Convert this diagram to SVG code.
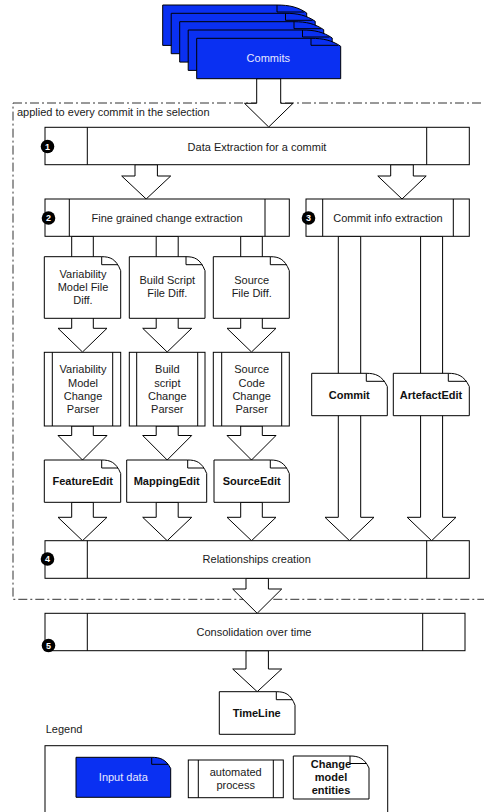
<svg xmlns="http://www.w3.org/2000/svg" width="484" height="812" viewBox="0 0 484 812">
<style>
.bg{fill:#fff}
.proc{fill:#fff;stroke:#000;stroke-width:1}
.div{stroke:#000;stroke-width:1}
.arrow{fill:#fff;stroke:#000;stroke-width:1;stroke-linejoin:miter}
.doc{fill:#fff;stroke:#000;stroke-width:1}
.blue{fill:#0a30f2;stroke:#000;stroke-width:1}
.fold{fill:none;stroke:#000;stroke-width:1}
.t{font-family:"Liberation Sans",Arial,sans-serif;font-size:11px;fill:#1a1a1a;text-anchor:middle}
.b{font-weight:bold;fill:#111}
.w{fill:#e8e8ff}
.num{font-family:"Liberation Sans",Arial,sans-serif;font-size:9px;font-weight:bold;fill:#fff;text-anchor:middle}
.frame{fill:none;stroke:#333;stroke-width:1;stroke-dasharray:9 3 2 3}
</style>
<rect class="bg" x="0" y="0" width="484" height="812"/>

<g id="scope">
<rect class="frame" x="13" y="103" width="490" height="496.3"/>
<text class="t" x="17" y="116.3" style="text-anchor:start">applied to every commit in the selection</text>
</g>

<g id="connectors">
<polygon class="arrow" points="256.7,78.7 280.7,78.7 280.7,103.3 293,103.3 268.7,127 244.5,103.3 256.7,103.3"/>
<polygon class="arrow" points="135,164.7 157.4,164.7 157.4,176 170.7,176 146.2,199 121.7,176 135,176"/>
<polygon class="arrow" points="390.7,164.7 413.3,164.7 413.3,176 426.2,176 402,199 377.8,176 390.7,176"/>
<polygon class="arrow" points="71.7,236.3 93.3,236.3 93.3,328.3 107,328.3 82.5,352 58,328.3 71.7,328.3"/>
<polygon class="arrow" points="156.2,236.3 178.2,236.3 178.2,328.3 191.7,328.3 167.2,352 142.7,328.3 156.2,328.3"/>
<polygon class="arrow" points="240.7,236.3 262.3,236.3 262.3,328.3 276,328.3 251.5,352 227,328.3 240.7,328.3"/>
<polygon class="arrow" points="71.7,426 93.3,426 93.3,435.5 107,435.5 82.5,460 58,435.5 71.7,435.5"/>
<polygon class="arrow" points="156.2,426 178.2,426 178.2,435.5 191.7,435.5 167.2,460 142.7,435.5 156.2,435.5"/>
<polygon class="arrow" points="240.7,426 262.3,426 262.3,435.5 276,435.5 251.5,460 227,435.5 240.7,435.5"/>
<polygon class="arrow" points="71.7,502.3 93.3,502.3 93.3,517.3 107,517.3 82.5,540.7 58,517.3 71.7,517.3"/>
<polygon class="arrow" points="156.2,502.3 178.2,502.3 178.2,517.3 191.7,517.3 167.2,540.7 142.7,517.3 156.2,517.3"/>
<polygon class="arrow" points="240.7,502.3 262.3,502.3 262.3,517.3 276,517.3 251.5,540.7 227,517.3 240.7,517.3"/>
<polygon class="arrow" points="338.3,236.3 360.7,236.3 360.7,517.3 374,517.3 349.5,540.7 325,517.3 338.3,517.3"/>
<polygon class="arrow" points="420.6,236.3 442.6,236.3 442.6,517.3 456,517.3 431.6,540.7 407.2,517.3 420.6,517.3"/>
<polygon class="arrow" points="246,578.3 268.4,578.3 268.4,589 281.7,589 257.2,613.3 232.7,589 246,589"/>
<polygon class="arrow" points="246,650.7 268.4,650.7 268.4,669 281.7,669 257.2,691.7 232.7,669 246,669"/>
</g>

<g id="commits">
<path class="blue" d="M162.7,5 H277 C289,5 298,7 306.7,13 V45.4 H162.7 Z"/>
<path class="fold" d="M277,5 V12 H304"/>
<path class="blue" d="M171.2,13.3 H285.5 C297.5,13.3 306.5,15.3 315.2,21.3 V53.7 H171.2 Z"/>
<path class="fold" d="M285.5,13.3 V20.3 H312.5"/>
<path class="blue" d="M179.7,21.7 H294 C306,21.7 315,23.7 323.7,29.7 V62.1 H179.7 Z"/>
<path class="fold" d="M294,21.7 V28.7 H321"/>
<path class="blue" d="M188.2,30 H302.5 C314.5,30 323.5,32 332.2,38 V70.4 H188.2 Z"/>
<path class="fold" d="M302.5,30 V37 H329.5"/>
<path class="blue" d="M196.7,38.3 H311 C323,38.3 332,40.3 340.7,46.3 V78.7 H196.7 Z"/>
<path class="fold" d="M311,38.3 V45.3 H338"/>
<text class="t w" x="268.3" y="62.3">Commits</text>
</g>

<g id="step1">
<rect class="proc" x="45" y="127.3" width="424.3" height="37.4"/>
<line class="div" x1="87.3" y1="127.3" x2="87.3" y2="164.7"/>
<line class="div" x1="426.7" y1="127.3" x2="426.7" y2="164.7"/>
<text class="t" x="257" y="150.7">Data Extraction for a commit</text>
<circle cx="47.5" cy="146.5" r="6.8" fill="#000"/>
<text class="num" x="47.5" y="149.7">1</text>
</g>

<g id="step2">
<rect class="proc" x="45" y="199" width="244.3" height="37.3"/>
<line class="div" x1="69.3" y1="199" x2="69.3" y2="236.3"/>
<line class="div" x1="265" y1="199" x2="265" y2="236.3"/>
<text class="t" x="167" y="222.3">Fine grained change extraction</text>
<circle cx="48.5" cy="218" r="6.8" fill="#000"/>
<text class="num" x="48.5" y="221.2">2</text>
</g>

<g id="step3">
<rect class="proc" x="306" y="199" width="163.3" height="37.3"/>
<line class="div" x1="322.7" y1="199" x2="322.7" y2="236.3"/>
<line class="div" x1="453.3" y1="199" x2="453.3" y2="236.3"/>
<text class="t" x="388" y="222.3">Commit info extraction</text>
<circle cx="308.5" cy="218" r="6.8" fill="#000"/>
<text class="num" x="308.5" y="221.2">3</text>
</g>

<g id="vm-diff">
<path class="doc" d="M44.3,256.7 H101.7 C110,256.7 116,258.7 120.7,270.7 V318.3 H44.3 Z"/>
<path class="fold" d="M101.7,256.7 V264.7 H118"/>
<text class="t" x="83" y="278.3">Variability</text>
<text class="t" x="83" y="290.9">Model File</text>
<text class="t" x="83" y="304">Diff.</text>
</g>

<g id="bs-diff">
<path class="doc" d="M129.3,256.7 H186 C194.3,256.7 200.3,258.7 205,270.7 V318.3 H129.3 Z"/>
<path class="fold" d="M186,256.7 V264.7 H202.3"/>
<text class="t" x="167.3" y="284">Build Script</text>
<text class="t" x="167.3" y="297.3">File Diff.</text>
</g>

<g id="src-diff">
<path class="doc" d="M213.3,256.7 H270.3 C278.6,256.7 284.6,258.7 289.3,270.7 V318.3 H213.3 Z"/>
<path class="fold" d="M270.3,256.7 V264.7 H286.6"/>
<text class="t" x="251.7" y="284">Source</text>
<text class="t" x="251.7" y="297.3">File Diff.</text>
</g>

<g id="vm-parser">
<rect class="proc" x="44.3" y="352.3" width="76.4" height="73.7"/>
<line class="div" x1="52.3" y1="352.3" x2="52.3" y2="426"/>
<line class="div" x1="112.7" y1="352.3" x2="112.7" y2="426"/>
<text class="t" x="83" y="373.3">Variability</text>
<text class="t" x="83" y="386.7">Model</text>
<text class="t" x="83" y="400">Change</text>
<text class="t" x="83" y="413.3">Parser</text>
</g>

<g id="bs-parser">
<rect class="proc" x="129.3" y="352.3" width="75.7" height="73.7"/>
<line class="div" x1="136.7" y1="352.3" x2="136.7" y2="426"/>
<line class="div" x1="197.7" y1="352.3" x2="197.7" y2="426"/>
<text class="t" x="167.3" y="373.3">Build</text>
<text class="t" x="167.3" y="386.7">script</text>
<text class="t" x="167.3" y="400">Change</text>
<text class="t" x="167.3" y="413.3">Parser</text>
</g>

<g id="src-parser">
<rect class="proc" x="213.3" y="352.3" width="76" height="73.7"/>
<line class="div" x1="221.7" y1="352.3" x2="221.7" y2="426"/>
<line class="div" x1="281.7" y1="352.3" x2="281.7" y2="426"/>
<text class="t" x="251.7" y="373.3">Source</text>
<text class="t" x="251.7" y="386.7">Code</text>
<text class="t" x="251.7" y="400">Change</text>
<text class="t" x="251.7" y="413.3">Parser</text>
</g>

<g id="feature-edit">
<path class="doc" d="M44.3,460 H101.7 C110,460 116,462 120.7,473.5 V502.3 H44.3 Z"/>
<path class="fold" d="M101.7,460 V468 H118"/>
<text class="t b" x="82.7" y="485">FeatureEdit</text>
</g>

<g id="mapping-edit">
<path class="doc" d="M126.7,460 H187.7 C196,460 202,462 206.7,473.5 V502.3 H126.7 Z"/>
<path class="fold" d="M187.7,460 V468 H204"/>
<text class="t b" x="166.7" y="485">MappingEdit</text>
</g>

<g id="source-edit">
<path class="doc" d="M214,460 H270.3 C278.6,460 284.6,462 289.3,473.5 V502.3 H214 Z"/>
<path class="fold" d="M270.3,460 V468 H286.6"/>
<text class="t b" x="251.7" y="485">SourceEdit</text>
</g>

<g id="commit-entity">
<path class="doc" d="M311.7,373.3 H366.3 C375,373.3 382,375.3 387.3,386.5 V415.7 H311.7 Z"/>
<path class="fold" d="M366.3,373.3 V381.3 H384.8"/>
<text class="t b" x="349.3" y="399">Commit</text>
</g>

<g id="artefact-edit">
<path class="doc" d="M393.3,373.3 H448.3 C457,373.3 464,375.3 469.3,386.5 V415.7 H393.3 Z"/>
<path class="fold" d="M448.3,373.3 V381.3 H466.8"/>
<text class="t b" x="431" y="399">ArtefactEdit</text>
</g>

<g id="step4">
<rect class="proc" x="45" y="540.7" width="424.3" height="37.6"/>
<line class="div" x1="87.3" y1="540.7" x2="87.3" y2="578.3"/>
<line class="div" x1="426.7" y1="540.7" x2="426.7" y2="578.3"/>
<text class="t" x="256.7" y="563.3">Relationships creation</text>
<circle cx="47.5" cy="559" r="6.8" fill="#000"/>
<text class="num" x="47.5" y="562.2">4</text>
</g>

<g id="step5">
<rect class="proc" x="45" y="613.3" width="420" height="37.4"/>
<line class="div" x1="87.3" y1="613.3" x2="87.3" y2="650.7"/>
<line class="div" x1="422.7" y1="613.3" x2="422.7" y2="650.7"/>
<text class="t" x="254" y="636.3">Consolidation over time</text>
<circle cx="48.5" cy="645.5" r="6.8" fill="#000"/>
<text class="num" x="48.5" y="648.7">5</text>
</g>

<g id="timeline">
<path class="doc" d="M219.3,691.7 H276.3 C284.6,691.7 290.6,693.7 295,705.2 V734.3 H219.3 Z"/>
<path class="fold" d="M276.3,691.7 V699.7 H292.3"/>
<text class="t b" x="256.7" y="716.7">TimeLine</text>
</g>

<g id="legend">
<text class="t" x="45.7" y="733.3" style="text-anchor:start">Legend</text>
<rect class="proc" x="45" y="745.7" width="342.7" height="80"/>
<path class="blue" d="M76,757.3 H151.7 C160,757.3 166,759.3 170.7,768.5 V797.3 H76 Z"/>
<path class="fold" d="M151.7,757.3 V764.3 H168"/>
<text class="t w" x="123.3" y="781.3">Input data</text>
<rect class="proc" x="188.3" y="760" width="95" height="37.7"/>
<line class="div" x1="198.3" y1="760" x2="198.3" y2="797.7"/>
<line class="div" x1="273.3" y1="760" x2="273.3" y2="797.7"/>
<text class="t" x="235.7" y="776.3">automated</text>
<text class="t" x="235.7" y="789">process</text>
<path class="doc" d="M293.3,756 H350 C358.3,756 364.3,758 369,768 V799 H293.3 Z"/>
<path class="fold" d="M350,756 V763.5 H366.3"/>
<text class="t b" x="331" y="768.3">Change</text>
<text class="t b" x="331" y="781.3">model</text>
<text class="t b" x="331" y="794">entities</text>
</g>
</svg>
